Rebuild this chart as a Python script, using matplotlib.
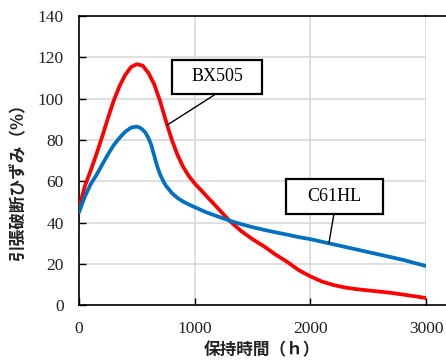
import matplotlib.pyplot as plt
from matplotlib.patches import Rectangle
from matplotlib.lines import Line2D

plt.rcParams['font.family'] = ['Liberation Serif', 'DejaVu Serif']
plt.rcParams['font.size'] = 12.5

# 保持時間 (h) vs 引張破断ひずみ (%)
t_bx = [0, 50, 100, 150, 200, 250, 300, 350, 400, 450, 500, 550, 600, 650, 700, 750, 800,
        850, 900, 950, 1000, 1100, 1200, 1300, 1400, 1500, 1600, 1700, 1800, 1900, 2000,
        2100, 2200, 2300, 2400, 2500, 2600, 2700, 2800, 2900, 3000]
bx505 = [47, 57.5, 65, 73, 81.5, 90.5, 99, 106, 111.5, 115.3, 116.7, 116, 112.5, 107, 99, 89.5, 80.5,
         73, 67, 62.5, 59, 53, 47, 41, 36, 32, 28.5, 24.5, 21, 17, 14,
         11.5, 9.8, 8.6, 7.8, 7.2, 6.6, 6, 5.2, 4.4, 3.5]

t_c6 = [0, 50, 100, 150, 200, 250, 300, 350, 400, 450, 500, 525, 550, 575, 600, 625, 650,
        675, 700, 725, 750, 800, 850, 900, 950, 1000, 1100, 1200, 1300, 1400, 1500, 1600,
        1700, 1800, 1900, 2000, 2200, 2400, 2600, 2800, 3000]
c61hl = [45, 52.5, 58.5, 63, 68, 73, 77.5, 81, 84, 86, 86.5, 86, 85, 83.5, 81, 77.5, 72.5,
         67.5, 63.5, 60.5, 58, 54.5, 52, 50.2, 48.8, 47.5, 45, 43, 41, 39.3, 37.8, 36.5,
         35.3, 34.2, 33, 32, 29.5, 27, 24.5, 22, 19]

xticks = [0, 1000, 2000, 3000]
yticks = [0, 20, 40, 60, 80, 100, 120, 140]

fig = plt.figure(figsize=(4.46, 3.64), dpi=100)
ax = fig.add_axes([0.1771, 0.1613, 0.7781, 0.7947])

ax.plot(t_bx, bx505, color='#ff0000', lw=2.7, solid_capstyle='round', zorder=3)
ax.plot(t_c6, c61hl, color='#0070c0', lw=2.7, solid_capstyle='round', zorder=3)

ax.set_xlim(0, 3000)
ax.set_ylim(0, 140)
ax.set_xticks(xticks)
ax.set_yticks(yticks)
ax.grid(True, color='#d9d9d9', lw=1.2)
ax.set_axisbelow(True)
ax.tick_params(direction='in', length=5, width=1, color='black', pad=11,
               labelsize=12.5, labelcolor='#222222')

ax.spines['right'].set_visible(False)
for s in ['top', 'bottom', 'left']:
    ax.spines[s].set_linewidth(1.2)
# top and bottom border run on to the edge of the picture
for yy in [0, 1]:
    ax.add_line(Line2D([1, 1.06], [yy, yy], transform=ax.transAxes, color='black',
                       lw=1.2, clip_on=False))

ax.set_ylabel('引張破断ひずみ（%）', family=['Noto Sans CJK JP', 'DejaVu Sans'],
              fontsize=12, fontweight='bold', color='#222222')
ax.yaxis.set_label_coords(-0.15, 0.44)
ax.set_xlabel('保持時間（ｈ）', family=['Noto Sans CJK JP', 'DejaVu Sans'],
              fontsize=12, fontweight='bold', color='#222222')
ax.xaxis.set_label_coords(0.527, -0.125)

# callouts
ax.plot([1170, 765], [101.8, 87.3], color='black', lw=1, zorder=4)
ax.add_patch(Rectangle((800, 102.4), 786, 16.4, facecolor='white', edgecolor='black',
                       lw=1.6, zorder=5))
ax.text(1193, 110.6, 'BX505', fontsize=13, ha='center', va='center', zorder=6)

ax.plot([2204, 2161], [44.2, 30.2], color='black', lw=1, zorder=4)
ax.add_patch(Rectangle((1789, 44.2), 836, 17.0, facecolor='white', edgecolor='black',
                       lw=1.6, zorder=5))
ax.text(2207, 52.7, 'C61HL', fontsize=13, ha='center', va='center', zorder=6)

fig.savefig('out.png', dpi=100)
